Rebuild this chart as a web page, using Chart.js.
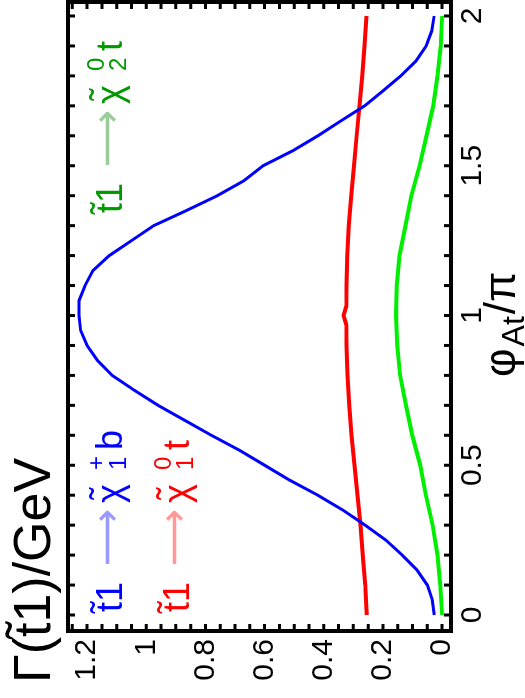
<!DOCTYPE html>
<html>
<head>
<meta charset="utf-8">
<script src="https://cdn.jsdelivr.net/npm/chart.js@4.4.1/dist/chart.umd.min.js"></script>
<style>
  html, body { margin: 0; padding: 0; background: #fff; overflow: hidden; }
  /* the chart is drawn upright and then turned a quarter to the left */
  #wrap { position: absolute; left: 0; top: 0; width: 698px; height: 525px;
          transform-origin: 0 0; transform: translateY(698px) rotate(-90deg); }
</style>
</head>
<body>
<div id="wrap"><canvas id="chart" width="698" height="525"></canvas></div>
<script>
// phi_At / pi on x, Gamma(stop1) in GeV on y
const bluePhi   = [0, 0.05, 0.1, 0.15, 0.2, 0.25, 0.3, 0.35, 0.4, 0.45, 0.5, 0.55, 0.6, 0.65, 0.7, 0.75, 0.8, 0.85, 0.9, 0.95, 1.0,
                   1.05, 1.1, 1.15, 1.2, 1.25, 1.3, 1.35, 1.4, 1.45, 1.5, 1.55, 1.6, 1.65, 1.7, 1.75, 1.8, 1.85, 1.9, 1.95, 2.0];
const blueGamma = [0.027, 0.033, 0.05, 0.085, 0.135, 0.19, 0.26, 0.335, 0.42, 0.515, 0.60, 0.685, 0.78, 0.87, 0.96, 1.04, 1.115, 1.165, 1.20, 1.222, 1.227,
                   1.227, 1.207, 1.18, 1.125, 1.05, 0.975, 0.865, 0.76, 0.67, 0.605, 0.505, 0.42, 0.342, 0.262, 0.20, 0.14, 0.088, 0.054, 0.035, 0.027];

const redPhi   = [0, 0.1, 0.2, 0.3, 0.4, 0.5, 0.6, 0.7, 0.8, 0.9, 0.97, 1.0, 1.03, 1.1, 1.2, 1.3, 1.4, 1.5, 1.6, 1.7, 1.8, 1.9, 2.0];
const redGamma = [0.255, 0.26, 0.268, 0.276, 0.286, 0.296, 0.306, 0.314, 0.32, 0.323, 0.324, 0.333, 0.324, 0.323, 0.321, 0.316, 0.307, 0.298, 0.289, 0.279, 0.27, 0.262, 0.256];

const greenPhi   = [0, 0.1, 0.2, 0.3, 0.4, 0.5, 0.6, 0.7, 0.8, 0.9, 1.0, 1.1, 1.2, 1.3, 1.4, 1.5, 1.6, 1.7, 1.8, 1.9, 2.0];
const greenGamma = [0.0, 0.006, 0.016, 0.032, 0.055, 0.074, 0.101, 0.122, 0.142, 0.152, 0.156, 0.153, 0.144, 0.124, 0.104, 0.076, 0.053, 0.03, 0.016, 0.005, 0.0];

const phiTicks   = [0, 0.5, 1, 1.5, 2];
const gammaTicks = [0, 0.2, 0.4, 0.6, 0.8, 1.0, 1.2];

const FONT = '"Liberation Sans", "DejaVu Sans", sans-serif';

function toPoints(xs, ys) {
  return xs.map((v, i) => ({x: v, y: ys[i]}));
}

function fmt(v) {
  return String(Number(v.toFixed(2)));
}

// "t~1 -> chi~ sub/sup  last" decay label
function decayLabel(ctx, x0, base, sub, sup, last, color, pale) {
  ctx.fillStyle = color;
  ctx.textAlign = 'left';
  ctx.textBaseline = 'alphabetic';
  ctx.font = '36px ' + FONT;
  ctx.fillText('t\u0303', x0, base);
  ctx.fillText('1', x0 + 10, base);
  ctx.fillText('\u03C7', x0 + 109, base);
  ctx.fillText(last, x0 + 162, base);
  // tilde over chi
  const w = ctx.measureText('\u03C7').width;
  ctx.textAlign = 'center';
  ctx.fillText('\u02DC', x0 + 109 + w / 2, base - 6);
  ctx.textAlign = 'left';
  ctx.fillStyle = pale;
  ctx.font = '40px "DejaVu Sans", sans-serif';
  ctx.fillText('\u27F6', x0 + 46, base - 2);
  ctx.fillStyle = color;
  ctx.font = '24px ' + FONT;
  ctx.fillText(sup, x0 + 142, base - 18);
  ctx.fillText(sub, x0 + 142, base + 4);
}

const decor = {
  id: 'decor',
  afterDraw(chart) {
    const {ctx, chartArea: a, scales: {x, y}} = chart;
    ctx.save();
    ctx.strokeStyle = '#000';
    ctx.lineWidth = 4;
    ctx.strokeRect(a.left, a.top, a.right - a.left, a.bottom - a.top);

    // inward ticks on all four sides
    ctx.lineWidth = 3;
    ctx.beginPath();
    for (let i = 0; i <= 20; i++) {
      const px = x.getPixelForValue(i * 0.1);
      ctx.moveTo(px, a.top); ctx.lineTo(px, a.top + 7);
      ctx.moveTo(px, a.bottom); ctx.lineTo(px, a.bottom - 7);
    }
    for (let i = 0; i <= 25; i++) {
      const py = y.getPixelForValue(i * 0.05);
      ctx.moveTo(a.left, py); ctx.lineTo(a.left + 7, py);
      ctx.moveTo(a.right, py); ctx.lineTo(a.right - 7, py);
    }
    ctx.stroke();

    decayLabel(ctx, 86, 122, '1', '+', 'b', '#0000ff', '#9999ff');
    decayLabel(ctx, 86, 189, '1', '0', 't', '#ff0000', '#ff9999');
    decayLabel(ctx, 485, 122, '2', '0', 't', '#009900', '#99cc99');

    // axis titles
    ctx.fillStyle = '#000';
    ctx.font = '52px ' + FONT;
    ctx.fillText('\u0393(t\u0303', 15, 50);
    let cx = 15 + ctx.measureText('\u0393(t\u0303').width;
    ctx.fillText('1)/GeV', cx, 50);

    ctx.font = '44px ' + FONT;
    ctx.fillText('\u03C6', 321, 515);
    cx = 321 + ctx.measureText('\u03C6').width + 2;
    ctx.font = '32px ' + FONT;
    ctx.fillText('At', cx, 524);
    cx += ctx.measureText('At').width + 2;
    ctx.font = '44px ' + FONT;
    ctx.fillText('/\u03C0', cx, 515);
    ctx.restore();
  }
};

new Chart(document.getElementById('chart'), {
  type: 'scatter',
  data: {
    datasets: [
      {data: toPoints(bluePhi, blueGamma), borderColor: '#0000ff', borderWidth: 3},
      {data: toPoints(greenPhi, greenGamma), borderColor: '#00ee00', borderWidth: 4},
      {data: toPoints(redPhi, redGamma), borderColor: '#ff0000', borderWidth: 4}
    ].map(d => Object.assign(d, {showLine: true, pointRadius: 0, fill: false, tension: 0}))
  },
  options: {
    responsive: false,
    animation: false,
    devicePixelRatio: 1,
    layout: {padding: {top: 68, right: 2, left: 0, bottom: 0}},
    plugins: {legend: {display: false}, tooltip: {enabled: false}},
    scales: {
      x: {
        type: 'linear', position: 'bottom', min: -0.0534, max: 2.0467,
        afterBuildTicks: s => { s.ticks = phiTicks.map(v => ({value: v})); },
        afterFit: s => { s.height = 74; },
        grid: {display: false, drawTicks: false},
        border: {display: false},
        ticks: {color: '#000', font: {family: FONT, size: 30}, padding: 4, maxRotation: 0, autoSkip: false,
                callback: v => fmt(v)}
      },
      y: {
        type: 'linear', position: 'left', min: -0.030, max: 1.2646,
        afterBuildTicks: s => { s.ticks = gammaTicks.map(v => ({value: v})); },
        afterFit: s => { s.width = 67; },
        grid: {display: false, drawTicks: false},
        border: {display: false},
        ticks: {color: '#000', font: {family: FONT, size: 30}, padding: 8, autoSkip: false,
                callback: v => fmt(v)}
      }
    }
  },
  plugins: [decor]
});
</script>
</body>
</html>
